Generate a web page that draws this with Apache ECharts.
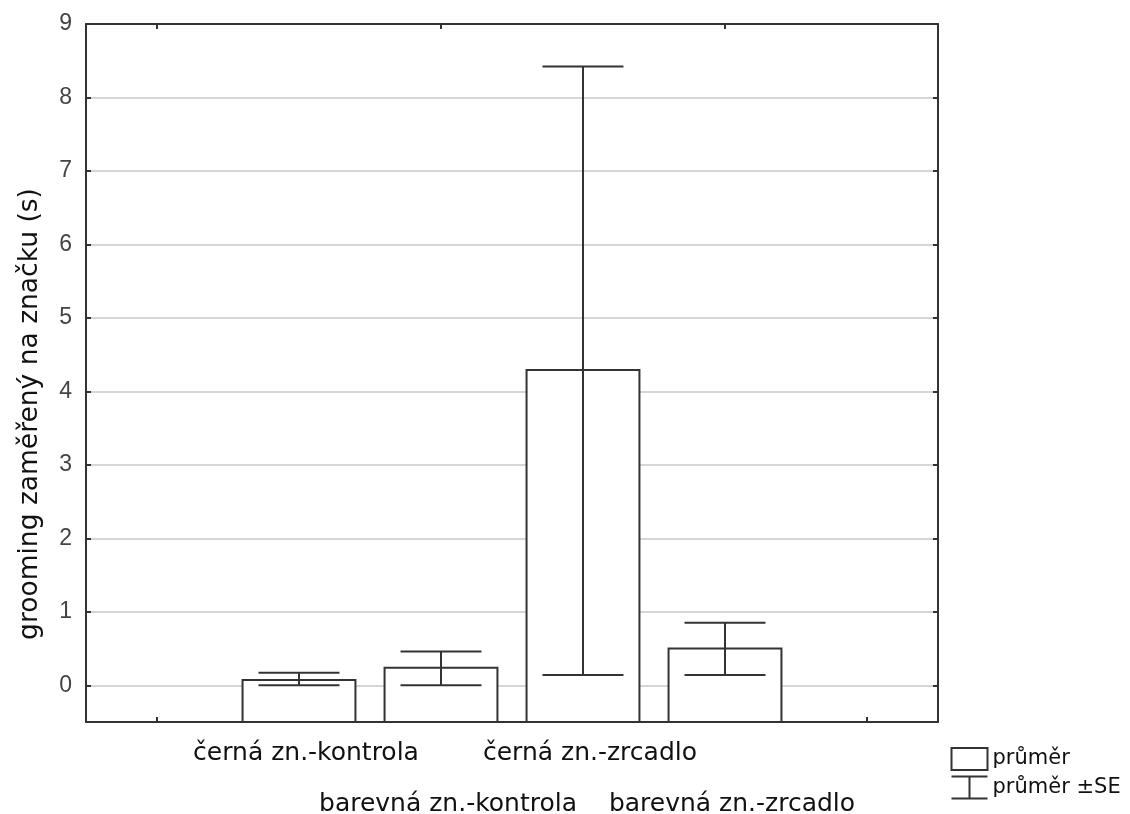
<!DOCTYPE html>
<html>
<head>
<meta charset="utf-8">
<script src="https://cdn.jsdelivr.net/npm/echarts@6/dist/echarts.min.js"></script>
<style>
html,body{margin:0;padding:0;background:#fff;}
#chart{width:1130px;height:814px;}
</style>
</head>
<body>
<div id="chart"></div>
<script>
const categories = ['', 'černá zn.-kontrola', 'barevná zn.-kontrola', 'černá zn.-zrcadlo', 'barevná zn.-zrcadlo', ''];
const means  = [null, 0.07, 0.24, 4.29, 0.50, null];
const seLow  = [null, 0.00, 0.00, 0.14, 0.14, null];
const seHigh = [null, 0.17, 0.46, 8.42, 0.85, null];
const yTicks = [0, 1, 2, 3, 4, 5, 6, 7, 8, 9];
const yMin = -0.5, yMax = 9;
const yTitle = 'grooming zaměřený na značku (s)';
const legendMean = 'průměr';
const legendSE = 'průměr ±SE';

const barData = [], errData = [];
categories.forEach((c, i) => {
  if (means[i] !== null) {
    barData.push([i, means[i]]);
    errData.push([i, seLow[i], seHigh[i]]);
  }
});

const frame = '#333';
const chart = echarts.init(document.getElementById('chart'), null, {renderer: 'canvas'});
const option = {
  backgroundColor: '#fff',
  animation: false,
  grid: {left: 86, right: 192, top: 24, bottom: 92, containLabel: false, outerBoundsMode: 'none'},
  xAxis: [{
    type: 'category', data: categories, position: 'bottom', boundaryGap: true,
    axisLine: {show: true, onZero: false, lineStyle: {color: frame, width: 2}},
    axisTick: {show: true, inside: true, alignWithLabel: true, length: 5, lineStyle: {color: frame, width: 2}},
    axisLabel: {
      interval: 0, margin: 19, color: '#111', fontFamily: 'DejaVu Sans', fontSize: 25, lineHeight: 25.5,
      padding: [0, 0, 0, 14],
      formatter: (v, i) => (i % 2 === 0 ? '\n\n' + v : v)
    },
    splitLine: {show: false}
  }, {
    type: 'category', data: categories, position: 'top', boundaryGap: true,
    axisLine: {show: true, onZero: false, lineStyle: {color: frame, width: 2}},
    axisTick: {show: true, inside: true, alignWithLabel: true, length: 5, lineStyle: {color: frame, width: 2}},
    axisLabel: {show: false},
    splitLine: {show: false}
  }],
  yAxis: [{
    type: 'value', min: yMin, max: yMax, position: 'left',
    axisLine: {show: true, onZero: false, lineStyle: {color: frame, width: 2}},
    axisTick: {show: true, inside: true, length: 5, customValues: yTicks, lineStyle: {color: frame, width: 2}},
    axisLabel: {customValues: yTicks, margin: 14, color: '#444', fontFamily: '"Liberation Sans", Arial, sans-serif', fontSize: 23},
    splitLine: {show: true, lineStyle: {color: '#c8c8c8', width: 1.5}}
  }, {
    type: 'value', min: yMin, max: yMax, position: 'right',
    axisLine: {show: true, onZero: false, lineStyle: {color: frame, width: 2}},
    axisTick: {show: true, inside: true, length: 5, customValues: yTicks, lineStyle: {color: frame, width: 2}},
    axisLabel: {show: false},
    splitLine: {show: false}
  }],
  legend: {
    orient: 'vertical', left: 944, top: 742, itemWidth: 36, itemHeight: 22, itemGap: 3,
    textStyle: {color: '#111', fontFamily: 'DejaVu Sans', fontSize: 21, lineHeight: 22},
    data: [
      {name: legendMean, icon: 'rect', itemStyle: {color: '#fff', borderColor: frame, borderWidth: 2}},
      {name: legendSE, icon: 'path://M0,0 L36,0 M18,0 L18,22 M0,22 L36,22', itemStyle: {color: 'none', borderColor: frame, borderWidth: 2}}
    ]
  },
  graphic: [{
    type: 'text', x: 30, y: 414, rotation: Math.PI / 2,
    style: {text: yTitle, fill: '#111', font: '26.5px "DejaVu Sans"', align: 'center', verticalAlign: 'middle'}
  }],
  series: [{
    name: legendMean, type: 'custom', xAxisIndex: 0, yAxisIndex: 0, data: barData,
    itemStyle: {color: '#fff', borderColor: frame, borderWidth: 2},
    z: 3,
    renderItem: (params, api) => {
      const i = api.value(0);
      const top = api.coord([i, api.value(1)]);
      const bot = api.coord([i, yMin]);
      const w = api.size([1, 0])[0] * 0.795;
      return {
        type: 'rect',
        shape: {x: top[0] - w / 2, y: top[1], width: w, height: bot[1] - top[1]},
        style: {fill: '#fff', stroke: frame, lineWidth: 2}
      };
    }
  }, {
    name: legendSE, type: 'custom', xAxisIndex: 0, yAxisIndex: 0, data: errData,
    itemStyle: {color: frame},
    z: 4,
    renderItem: (params, api) => {
      const i = api.value(0);
      const lo = api.coord([i, api.value(1)]);
      const hi = api.coord([i, api.value(2)]);
      const w = api.size([1, 0])[0] * 0.57;
      const st = {stroke: frame, lineWidth: 2, fill: 'none'};
      return {
        type: 'group',
        children: [
          {type: 'line', shape: {x1: hi[0], y1: hi[1], x2: lo[0], y2: lo[1]}, style: st},
          {type: 'line', shape: {x1: hi[0] - w / 2, y1: hi[1], x2: hi[0] + w / 2, y2: hi[1]}, style: st},
          {type: 'line', shape: {x1: lo[0] - w / 2, y1: lo[1], x2: lo[0] + w / 2, y2: lo[1]}, style: st}
        ]
      };
    }
  }]
};
chart.setOption(option);
</script>
</body>
</html>
